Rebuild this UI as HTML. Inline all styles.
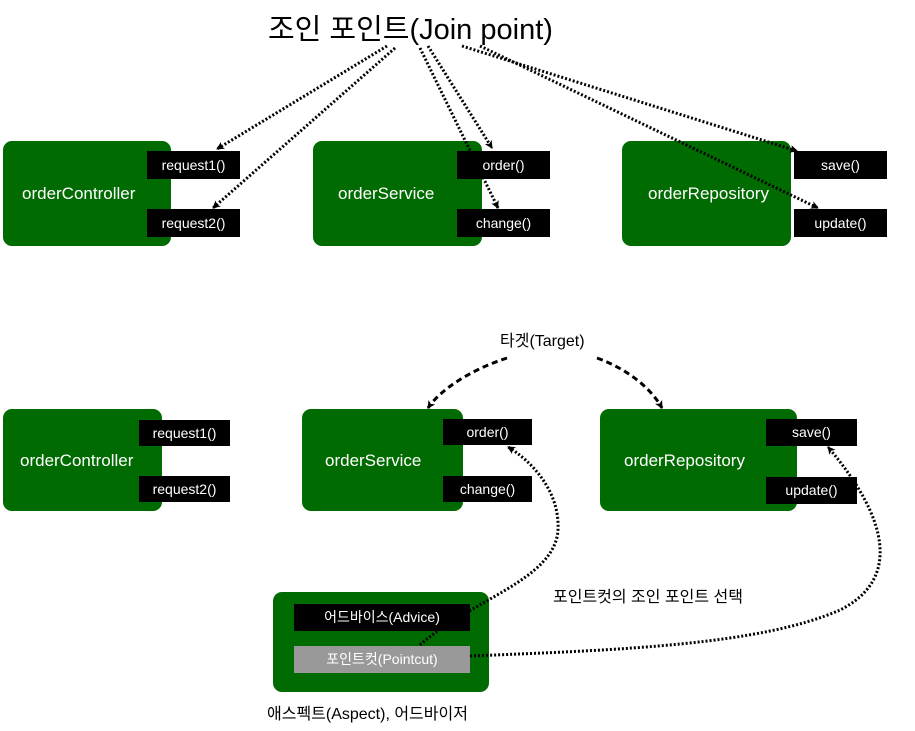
<!DOCTYPE html>
<html><head><meta charset="utf-8"><style>
body{margin:0;width:915px;height:731px;background:#fff;position:relative;overflow:hidden;font-family:"Liberation Sans","Noto Sans CJK KR",sans-serif}
.g{position:absolute;background:#006b00;border-radius:9px;color:#fff;font-size:17px}
.b{position:absolute;background:#000;color:#fff;font-size:14px;text-align:center;box-sizing:border-box}
.t{position:absolute;color:#fff;font-size:17px;white-space:nowrap}
.l{position:absolute;white-space:nowrap;color:#000}
</style></head><body>
<div class="l" style="left:268px;top:6px;font-size:29px">조인 포인트(Join point)</div>

<div class="g" style="left:3px;top:141px;width:168px;height:105px"></div>
<div class="t" style="left:22px;top:184px">orderController</div>
<div class="b" style="left:147px;top:151px;width:93px;height:28px;line-height:28px">request1()</div>
<div class="b" style="left:147px;top:209px;width:93px;height:28px;line-height:28px">request2()</div>

<div class="g" style="left:313px;top:141px;width:169px;height:105px"></div>
<div class="t" style="left:338px;top:184px">orderService</div>
<div class="b" style="left:457px;top:151px;width:93px;height:28px;line-height:28px">order()</div>
<div class="b" style="left:457px;top:209px;width:93px;height:28px;line-height:28px">change()</div>

<div class="g" style="left:622px;top:141px;width:169px;height:105px"></div>
<div class="t" style="left:648px;top:184px">orderRepository</div>
<div class="b" style="left:794px;top:151px;width:93px;height:28px;line-height:28px">save()</div>
<div class="b" style="left:794px;top:209px;width:93px;height:28px;line-height:28px">update()</div>

<div class="l" style="left:500px;top:327px;font-size:16px">타겟(Target)</div>

<div class="g" style="left:3px;top:409px;width:159px;height:102px"></div>
<div class="t" style="left:20px;top:451px">orderController</div>
<div class="b" style="left:139px;top:420px;width:91px;height:26px;line-height:26px">request1()</div>
<div class="b" style="left:139px;top:476px;width:91px;height:26px;line-height:26px">request2()</div>

<div class="g" style="left:302px;top:409px;width:161px;height:102px"></div>
<div class="t" style="left:325px;top:451px">orderService</div>
<div class="b" style="left:443px;top:419px;width:89px;height:26px;line-height:26px">order()</div>
<div class="b" style="left:443px;top:476px;width:89px;height:26px;line-height:26px">change()</div>

<div class="g" style="left:600px;top:409px;width:197px;height:102px"></div>
<div class="t" style="left:624px;top:451px">orderRepository</div>
<div class="b" style="left:766px;top:419px;width:91px;height:27px;line-height:27px">save()</div>
<div class="b" style="left:766px;top:477px;width:91px;height:27px;line-height:27px">update()</div>

<div class="g" style="left:273px;top:592px;width:216px;height:100px"></div>
<div class="b" style="left:294px;top:604px;width:176px;height:27px;line-height:27px">어드바이스(Advice)</div>
<div class="b" style="left:294px;top:646px;width:176px;height:27px;line-height:27px;background:#999">포인트컷(Pointcut)</div>
<div class="l" style="left:267px;top:700px;font-size:16px">애스펙트(Aspect), 어드바이저</div>
<div class="l" style="left:553px;top:583px;font-size:16px">포인트컷의 조인 포인트 선택</div>

<svg width="915" height="731" style="position:absolute;left:0;top:0" fill="none" stroke="#000">
<defs><marker id="a" markerWidth="8" markerHeight="8" refX="7" refY="4" orient="auto" markerUnits="userSpaceOnUse"><path d="M0,0 L8,4 L0,8 L2,4z" fill="#000" stroke="none"/></marker></defs>
<g stroke-width="3" stroke-dasharray="2 2" marker-end="url(#a)">
<path d="M387,46 L217,149"/>
<path d="M395,48 L213,208"/>
<path d="M428,46 L492,148"/>
<path d="M420,48 L498,208"/>
<path d="M462,46 L797,151"/>
<path d="M480,46 L818,208"/>
<path d="M420,645 C470,600 555,580 558,530 C560,490 530,460 508,447"/>
<path d="M470,656 C620,650 760,645 840,610 C900,580 890,520 828,447"/>
</g>
<g stroke-width="3" stroke-dasharray="6 4" marker-end="url(#a)">
<path d="M507,358 C470,370 440,390 428,408"/>
<path d="M597,358 C630,370 652,390 662,408"/>
</g>
</svg>
</body></html>
